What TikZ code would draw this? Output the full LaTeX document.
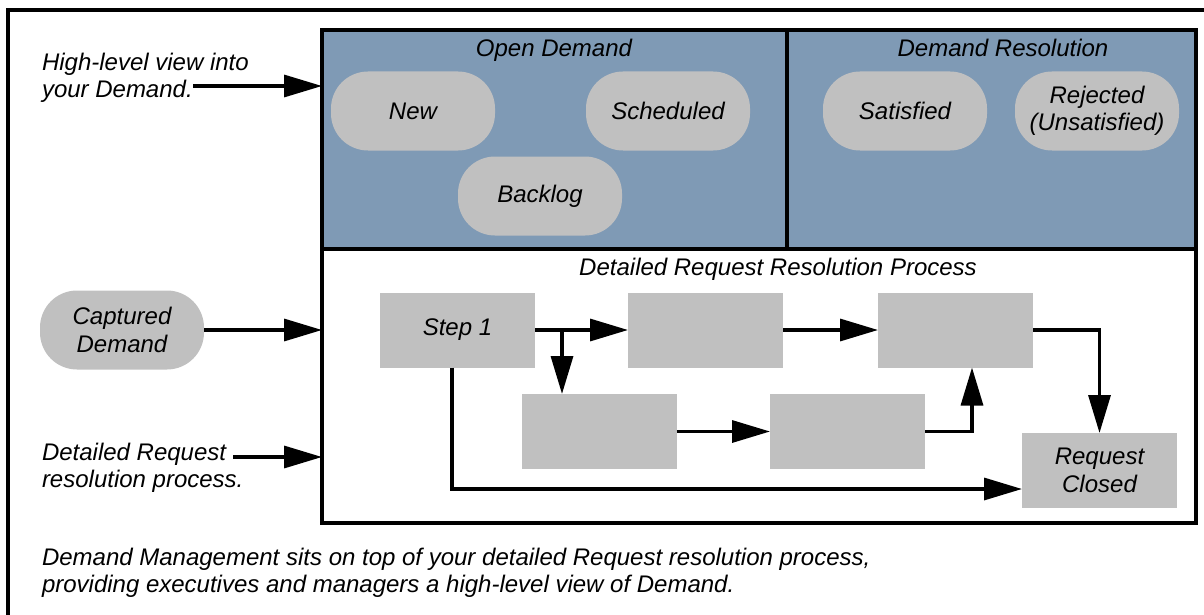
\documentclass[tikz,border=0pt]{standalone}
\usepackage{fontspec}
\setmainfont{Liberation Sans}
\usetikzlibrary{arrows.meta}
\definecolor{panelblue}{RGB}{127,154,181}
\definecolor{boxgrey}{RGB}{192,192,192}

\begin{document}
\begin{tikzpicture}[x=1pt,y=-1pt,
  every node/.style={font=\fontsize{24}{27.5}\selectfont\itshape, inner sep=0pt, outer sep=0pt},
  line/.style={line width=3.3pt},
  arr/.style={line width=3.3pt, -{Triangle[length=38pt,width=22pt]}},
  panel/.style={draw, line width=3.3pt},
  pill/.style={fill=boxgrey, rounded corners=37pt, minimum width=164pt, minimum height=79pt, align=center},
  stepbox/.style={fill=boxgrey, minimum width=155pt, minimum height=75pt, align=center},
  note/.style={align=left, anchor=west}]

\useasboundingbox (0,0) rectangle (1204,615);

% outer frame (open to the right and bottom)
\draw[line] (8,615) -- (8,10) -- (1204,10);

% demand management panels
\node[panel, fill=panelblue, minimum width=465pt, minimum height=219pt] (opend) at (554.5,139.5) {};
\node[panel, fill=panelblue, minimum width=409pt, minimum height=219pt] (dres) at (991.5,139.5) {};
\node[anchor=base] (opendT) at (554,57) {Open Demand};
\node[anchor=base] (dresT) at (1003,57) {Demand Resolution};

\node[pill] (new) at (413,111) {New};
\node[pill] (sched) at (668,111) {Scheduled};
\node[pill] (backlog) at (540,196) {Backlog};
\node[pill] (satis) at (905,111) {Satisfied};
\node[pill] (reject) at (1097,111) {Rejected\\(Unsatisfied)};

% request resolution process
\node[panel, fill=white, minimum width=874pt, minimum height=274pt] (detail) at (759,386) {};
\node[anchor=base] (detailT) at (778,275) {Detailed Request Resolution Process};

\node[stepbox] (s1) at (457.5,330) {Step 1};
\node[stepbox] (s2) at (705.5,330) {};
\node[stepbox] (s3) at (955.5,330) {};
\node[stepbox] (s4) at (599,431.5) {};
\node[stepbox] (s5) at (847.5,431.5) {};
\node[stepbox] (rc) at (1099.5,470.5) {Request\\Closed};

% left-hand annotations
\node[note] (hl) at (42,78) {High-level view into\\your Demand.};
\node[pill] (cap) at (122,330) {Captured\\Demand};
\node[note] (dr) at (42,468) {Detailed Request\\resolution process.};
\node[note] (caption) at (42,573) {Demand Management sits on top of your detailed Request resolution process,\\providing executives and managers a high-level view of Demand.};

% connectors
\coordinate (hlA) at (193,86);
\coordinate (drA) at (233,457);
\coordinate (br) at (562,330);
\coordinate (upx) at (972,431.5);
\coordinate (lp) at (452,489);

\draw[arr] (hlA) -- (hlA -| opend.west);
\draw[arr] (cap.east) -- (cap.east -| detail.west);
\draw[arr] (drA) -- (drA -| detail.west);

\draw[arr] (s1.east) -- (s2.west);
\draw[arr] (br) -- (br |- s4.north);
\draw[arr] (s2.east) -- (s3.west);
\draw[arr] (s3.east) -| (rc.north);
\draw[arr] (s4.east) -- (s5.west);
\draw[arr] (s5.east) -- (upx) -- (upx |- s3.south);
\draw[arr] (lp |- s1.south) -- (lp) -- (lp -| rc.west);
\end{tikzpicture}
\end{document}
